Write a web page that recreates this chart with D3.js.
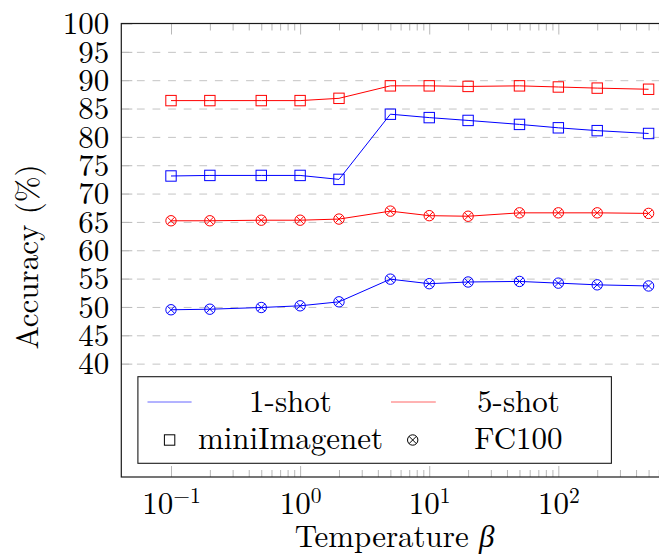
<!DOCTYPE html>
<html><head><meta charset="utf-8">
<script src="https://cdn.jsdelivr.net/npm/d3@7"></script>
<style>body{margin:0;background:#fff}</style>
</head><body>
<svg id="c" width="659" height="554"></svg>
<script>
// ---- data ----
const temperatures = [0.1, 0.2, 0.5, 1, 2, 5, 10, 20, 50, 100, 200, 500];
const mini1shot = [73.1, 73.2, 73.2, 73.2, 72.5, 84.0, 83.4, 82.9, 82.2, 81.6, 81.1, 80.6];
const mini5shot = [86.4, 86.4, 86.4, 86.4, 86.8, 89.0, 89.0, 88.9, 89.0, 88.8, 88.6, 88.4];
const fc1shot   = [49.5, 49.6, 49.9, 50.2, 50.9, 54.9, 54.1, 54.4, 54.5, 54.2, 53.9, 53.7];
const fc5shot   = [65.2, 65.2, 65.3, 65.3, 65.5, 66.9, 66.1, 66.0, 66.6, 66.6, 66.6, 66.5];
const yTickValues = [40, 45, 50, 55, 60, 65, 70, 75, 80, 85, 90, 95, 100];
const xTickValues = [0.1, 1, 10, 100];
const xTickExponents = ["\u22121", "0", "1", "2"];
const legendShots = ["1-shot", "5-shot"];
const legendDatasets = ["miniImagenet", "FC100"];

// ---- layout ----
const FONT = "Latin Modern Roman, Liberation Serif, serif";
const svg = d3.select("#c");
const L = 121.3, R = 698.3, T = 23.5, B = 477;
const FS = 31;
const x = d3.scaleLog().domain([Math.pow(10, -1.385), Math.pow(10, 3.084)]).range([L, R]);
const y = d3.scaleLinear().domain([20, 100]).range([B, T]);
const tickColor = "#b8b8b8";
const gridColor = "#c4c4c4";

// grid lines
svg.append("g").attr("transform", `translate(${L},0)`)
  .call(d3.axisLeft(y).tickValues(yTickValues.filter(v => v < 100)).tickSize(-(R - L)).tickFormat(""))
  .call(g => g.select(".domain").remove())
  .call(g => g.selectAll("line").attr("stroke", gridColor).attr("stroke-width", 1).attr("stroke-dasharray", "7.8,7.8"));

// minor x ticks
const minorTicks = [];
for (let e = -1; e < 3; e++) for (let k = 2; k <= 9; k++) minorTicks.push(k * Math.pow(10, e));
function styleTicks(g) {
  g.select(".domain").remove();
  g.selectAll("line").attr("stroke", tickColor).attr("stroke-width", 1);
}
svg.append("g").attr("transform", `translate(0,${B})`)
  .call(d3.axisBottom(x).tickValues(minorTicks).tickSize(-7).tickFormat("")).call(styleTicks);
svg.append("g").attr("transform", `translate(0,${T})`)
  .call(d3.axisTop(x).tickValues(minorTicks).tickSize(-7).tickFormat("")).call(styleTicks);
svg.append("g").attr("transform", `translate(0,${T})`)
  .call(d3.axisTop(x).tickValues(xTickValues).tickSize(-11).tickFormat("")).call(styleTicks);

// major x ticks + labels
const xAxisG = svg.append("g").attr("transform", `translate(0,${B})`)
  .call(d3.axisBottom(x).tickValues(xTickValues).tickSize(-11)).call(styleTicks);
xAxisG.selectAll("text").each(function (d, i) {
  const t = d3.select(this);
  t.text(null).attr("y", 37).attr("dy", 0).attr("font-size", FS).attr("text-anchor", "middle");
  t.append("tspan").text("10");
  t.append("tspan").attr("dy", -11).attr("font-size", 21.5).text(xTickExponents[i]);
});

// y ticks + labels
svg.append("g").attr("transform", `translate(${L},0)`)
  .call(d3.axisLeft(y).tickValues(yTickValues).tickSize(-11).tickPadding(12))
  .call(styleTicks)
  .call(g => g.selectAll("text").attr("font-size", FS).attr("dy", "0.33em"));

// series
const series = [
  { vals: mini1shot, color: "#0000ff", mark: "square" },
  { vals: mini5shot, color: "#ff0000", mark: "square" },
  { vals: fc1shot,   color: "#0000ff", mark: "otimes" },
  { vals: fc5shot,   color: "#ff0000", mark: "otimes" }
];
const line = d3.line().x((d, i) => x(temperatures[i])).y(d => y(d));
const MS = 5.2;
function drawMark(g, cx, cy, type, color) {
  if (type === "square") {
    g.append("rect").attr("x", cx - MS).attr("y", cy - MS).attr("width", 2 * MS).attr("height", 2 * MS)
      .attr("fill", "none").attr("stroke", color).attr("stroke-width", 1);
  } else {
    g.append("circle").attr("cx", cx).attr("cy", cy).attr("r", MS)
      .attr("fill", "none").attr("stroke", color).attr("stroke-width", 1);
    const a = MS * Math.SQRT1_2;
    g.append("path").attr("d", `M${cx - a},${cy - a}L${cx + a},${cy + a}M${cx - a},${cy + a}L${cx + a},${cy - a}`)
      .attr("stroke", color).attr("stroke-width", 1).attr("fill", "none");
  }
}
series.forEach(s => {
  svg.append("path").datum(s.vals).attr("d", line).attr("fill", "none")
    .attr("stroke", s.color).attr("stroke-width", 1);
  const g = svg.append("g");
  s.vals.forEach((v, i) => drawMark(g, x(temperatures[i]), y(v), s.mark, s.color));
});

// frame
svg.append("rect").attr("x", L).attr("y", T).attr("width", R - L).attr("height", B - T)
  .attr("fill", "none").attr("stroke", "#1a1a1a").attr("stroke-width", 1.2);

// legend
const lg = svg.append("g");
lg.append("rect").attr("x", 137.9).attr("y", 376.7).attr("width", 473.5).attr("height", 86.6)
  .attr("fill", "#fff").attr("stroke", "#1a1a1a").attr("stroke-width", 1.1);
const shotColors = ["#0000ff", "#ff0000"];
const colX = [[147.5, 191.6, 290.5], [391, 435.8, 518.5]];
legendShots.forEach((s, i) => {
  lg.append("line").attr("x1", colX[i][0]).attr("x2", colX[i][1]).attr("y1", 402).attr("y2", 402)
    .attr("stroke", shotColors[i]).attr("stroke-width", 1).attr("stroke-opacity", 0.6);
  lg.append("text").attr("x", colX[i][2]).attr("y", 411.7).attr("text-anchor", "middle")
    .attr("font-size", FS).text(s);
});
const markX = [169.6, 412.7];
["square", "otimes"].forEach((m, i) => {
  drawMark(lg, markX[i], 440, m, "#000");
  lg.append("text").attr("x", colX[i][2]).attr("y", 448.5).attr("text-anchor", "middle")
    .attr("font-size", FS).text(legendDatasets[i]);
});

// axis titles
svg.append("text").attr("x", 394.6).attr("y", 546.7).attr("text-anchor", "middle").attr("font-size", FS)
  .call(t => { t.append("tspan").text("Temperature "); t.append("tspan").attr("font-style", "italic").text("\u03B2"); });
svg.append("text").attr("transform", "translate(38,257) rotate(-90)").attr("text-anchor", "middle")
  .attr("font-size", FS).text("Accuracy (%)");

svg.selectAll("text").attr("font-family", FONT).attr("fill", "#000");
</script>
</body></html>
